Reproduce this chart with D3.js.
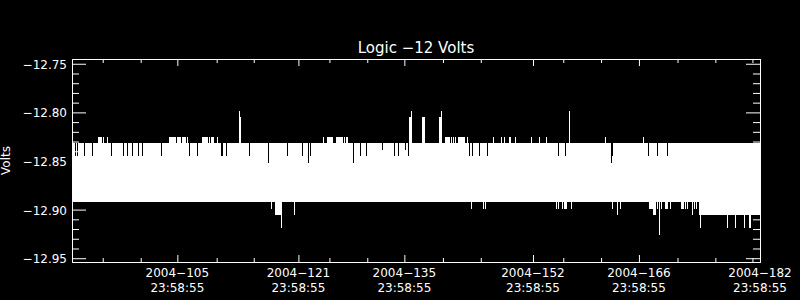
<!DOCTYPE html>
<html>
<head>
<meta charset="utf-8">
<script src="https://cdn.jsdelivr.net/npm/d3@7"></script>
<style>
  html, body { margin: 0; padding: 0; background: #000; }
  svg { display: block; }
  text { fill: #fff; font-family: "DejaVu Sans", sans-serif; }
  .axis path, .axis line { stroke: #fff; }
</style>
</head>
<body>
<div id="chart"></div>
<script>
// time axis in day-of-year 2004, values in volts
const xDomain = [91.08, 182.0];
const yDomain = [-12.9539, -12.7451];

const majorDays = [105, 121, 135, 152, 166, 182];
const dayLabels = ['2004\u2212105', '2004\u2212121', '2004\u2212135', '2004\u2212152', '2004\u2212166', '2004\u2212182'];
const timeLabel = '23:58:55';
const minorDays = [95.14, 100.16, 110.2, 115.1, 125.1, 130.1, 140.1, 145.1, 156.0, 161.0, 171.1, 176.1, 181.0];

const yMajor = [-12.75, -12.80, -12.85, -12.90, -12.95];
const yMinor = [-12.76, -12.77, -12.78, -12.79, -12.81, -12.82, -12.83, -12.84,
                -12.86, -12.87, -12.88, -12.89, -12.91, -12.92, -12.93, -12.94];

// main band: [fromDay, toDay, max, min]
const bandSegments = [
    [91.08, 173.93, -12.8317, -12.8923],
    [173.93, 182.0, -12.8317, -12.9058]
];

// readings above the band top: [fromDay, toDay, value]
const upSpikes = [
    [94.52, 94.87, -12.8249], [95.18, 95.18, -12.8249], [95.71, 95.71, -12.8249],
    [103.90, 104.25, -12.8249], [104.43, 104.43, -12.8249], [104.60, 104.60, -12.8249],
    [104.82, 104.82, -12.8249], [105.00, 105.35, -12.8249], [105.66, 106.00, -12.8249],
    [106.14, 106.14, -12.8249], [106.37, 106.37, -12.8249], [108.39, 108.88, -12.8249],
    [109.01, 109.01, -12.8249], [109.22, 109.22, -12.8249], [109.49, 109.67, -12.8249],
    [109.84, 109.84, -12.8249], [110.37, 110.37, -12.8249],
    [113.15, 113.15, -12.7983], [113.28, 113.37, -12.8051],
    [124.29, 124.29, -12.8249], [124.91, 125.44, -12.8249], [125.57, 125.57, -12.8249],
    [126.10, 126.72, -12.8249], [126.85, 126.85, -12.8249], [127.06, 127.06, -12.8249],
    [127.29, 127.29, -12.8249], [127.46, 127.46, -12.8249],
    [135.74, 136.01, -12.8051], [135.92, 135.92, -12.7983],
    [137.46, 137.69, -12.8051],
    [139.71, 139.93, -12.8051], [139.88, 139.88, -12.7983],
    [140.50, 141.03, -12.8249], [141.29, 141.29, -12.8249], [141.56, 141.56, -12.8249],
    [141.82, 141.82, -12.8249], [142.18, 142.97, -12.8249], [143.28, 143.28, -12.8249],
    [146.75, 146.75, -12.8249], [147.81, 147.81, -12.8249], [148.21, 148.21, -12.8249],
    [148.87, 149.05, -12.8249], [149.66, 149.66, -12.8249], [151.77, 151.77, -12.8249],
    [152.92, 152.92, -12.8249], [153.76, 153.76, -12.8249],
    [156.80, 156.80, -12.7983],
    [161.55, 161.55, -12.8249], [166.57, 166.57, -12.8249]
];

// columns where the maximum stays below the band top: [fromDay, toDay, value]
const notches = [
    [91.57, 91.57, -12.8451], [91.83, 91.83, -12.8451], [92.71, 92.71, -12.8451],
    [93.76, 93.76, -12.8451], [96.27, 96.27, -12.8451], [97.86, 97.86, -12.8451],
    [98.39, 98.39, -12.8451], [99.05, 99.05, -12.8451], [99.84, 99.84, -12.8451],
    [100.37, 100.37, -12.8451], [102.88, 102.88, -12.8451], [106.58, 106.58, -12.8451],
    [107.64, 107.64, -12.8451], [110.81, 110.81, -12.8451], [111.03, 111.03, -12.8451],
    [111.47, 111.47, -12.8451], [114.51, 114.51, -12.8451], [117.02, 117.02, -12.8518],
    [119.53, 119.53, -12.8451], [121.51, 121.51, -12.8451], [122.31, 122.31, -12.8518],
    [122.66, 122.66, -12.8451], [128.25, 128.25, -12.8518], [129.18, 129.18, -12.8451],
    [129.97, 129.97, -12.8451], [132.08, 132.08, -12.8384], [133.72, 133.72, -12.8451],
    [134.20, 134.20, -12.8451], [135.12, 135.12, -12.8384], [135.61, 135.61, -12.8451],
    [143.58, 143.58, -12.8451], [144.07, 144.07, -12.8451], [144.90, 144.90, -12.8451],
    [145.96, 145.96, -12.8451], [155.34, 155.34, -12.8451], [156.27, 156.27, -12.8451],
    [162.35, 162.53, -12.8451], [162.35, 162.35, -12.8518],
    [167.23, 167.23, -12.8451], [168.42, 168.42, -12.8451], [169.75, 169.75, -12.8451]
];

// readings below the band bottom: [fromDay, toDay, value]
const downSpikes = [
    [117.38, 117.38, -12.8991], [117.91, 118.70, -12.9058], [118.74, 118.74, -12.9193],
    [120.42, 120.42, -12.9058],
    [143.85, 143.85, -12.8991], [145.43, 145.43, -12.8991], [145.70, 145.70, -12.8991],
    [155.08, 155.08, -12.8991], [155.34, 155.34, -12.8991], [155.87, 155.87, -12.8991],
    [156.14, 156.45, -12.8991], [157.06, 157.06, -12.8991],
    [162.48, 162.48, -12.8991], [163.14, 163.14, -12.9058], [163.54, 163.54, -12.8991],
    [167.37, 167.72, -12.8991], [167.99, 168.25, -12.9058], [168.42, 168.42, -12.8991],
    [168.69, 168.69, -12.9260], [169.01, 169.01, -12.8991], [169.48, 169.71, -12.8991],
    [170.14, 170.14, -12.8991], [171.60, 171.82, -12.8991], [172.12, 172.12, -12.8991],
    [172.39, 172.39, -12.8991], [173.05, 173.05, -12.9058], [173.31, 173.31, -12.8991],
    [173.58, 173.58, -12.8991],
    [174.11, 174.11, -12.9193], [177.67, 177.67, -12.9193], [178.73, 178.73, -12.9193],
    [179.92, 179.92, -12.9193], [180.58, 180.77, -12.9193]
];

const WIDTH = 800;
const HEIGHT = 300;
const LEFT = 72, RIGHT = 760, TOP = 59, BOTTOM = 262;

const svg = d3.select('#chart')
    .append('svg')
    .attr('width', WIDTH)
    .attr('height', HEIGHT)
    .style('background', '#000');

const x = d3.scaleLinear().domain(xDomain).range([LEFT, RIGHT]);
const y = d3.scaleLinear().domain(yDomain).range([BOTTOM, TOP]);

const plot = svg.append('g').attr('shape-rendering', 'crispEdges');

plot.selectAll('rect.band')
    .data(bandSegments)
    .join('rect')
    .attr('class', 'band')
    .attr('x', d => x(d[0]))
    .attr('width', d => x(d[1]) - x(d[0]))
    .attr('y', d => y(d[2]))
    .attr('height', d => y(d[3]) - y(d[2]))
    .attr('fill', '#fff');

const colX = d => Math.floor(x(d[0]));
const colW = d => Math.max(1, Math.round(x(d[1]) - x(d[0])) + 1);
const bandTop = bandSegments[0][2];
const bandBottom = bandSegments[0][3];

plot.selectAll('rect.up')
    .data(upSpikes)
    .join('rect')
    .attr('class', 'up')
    .attr('x', colX)
    .attr('width', colW)
    .attr('y', d => y(d[2]))
    .attr('height', d => y(bandTop) - y(d[2]))
    .attr('fill', '#fff');

plot.selectAll('rect.down')
    .data(downSpikes)
    .join('rect')
    .attr('class', 'down')
    .attr('x', colX)
    .attr('width', colW)
    .attr('y', y(bandBottom))
    .attr('height', d => y(d[2]) - y(bandBottom))
    .attr('fill', '#fff');

plot.selectAll('rect.notch')
    .data(notches)
    .join('rect')
    .attr('class', 'notch')
    .attr('x', colX)
    .attr('width', colW)
    .attr('y', y(bandTop))
    .attr('height', d => y(d[2]) - y(bandTop))
    .attr('fill', '#000');

// axes, ticks point inward on all four sides
function addAxis(axis, transform) {
    const g = svg.append('g')
        .attr('class', 'axis')
        .attr('transform', transform)
        .call(axis);
    g.selectAll('text').remove();
    return g;
}

addAxis(d3.axisLeft(y).tickValues(yMajor).tickSize(-14).tickSizeOuter(0), `translate(${LEFT},0)`);
addAxis(d3.axisLeft(y).tickValues(yMinor).tickSize(-7).tickSizeOuter(0), `translate(${LEFT},0)`);
addAxis(d3.axisRight(y).tickValues(yMajor).tickSize(-14).tickSizeOuter(0), `translate(${RIGHT},0)`);
addAxis(d3.axisRight(y).tickValues(yMinor).tickSize(-7).tickSizeOuter(0), `translate(${RIGHT},0)`);
addAxis(d3.axisBottom(x).tickValues(majorDays).tickSize(-7).tickSizeOuter(0), `translate(0,${BOTTOM})`);
addAxis(d3.axisBottom(x).tickValues(minorDays).tickSize(-4).tickSizeOuter(0), `translate(0,${BOTTOM})`);
addAxis(d3.axisTop(x).tickValues(majorDays).tickSize(-7).tickSizeOuter(0), `translate(0,${TOP})`);
addAxis(d3.axisTop(x).tickValues(minorDays).tickSize(-4).tickSizeOuter(0), `translate(0,${TOP})`);

svg.selectAll('text.ylab')
    .data(yMajor)
    .join('text')
    .attr('class', 'ylab')
    .attr('x', LEFT - 5)
    .attr('y', d => y(d) + 5)
    .attr('text-anchor', 'end')
    .attr('font-size', 12)
    .text(d => d3.format('.2f')(d).replace('-', '\u2212'));

const xlab = svg.selectAll('text.xlab')
    .data(majorDays)
    .join('text')
    .attr('class', 'xlab')
    .attr('text-anchor', 'middle')
    .attr('font-size', 12);

xlab.append('tspan')
    .attr('x', d => x(d))
    .attr('y', BOTTOM + 15)
    .text((d, i) => dayLabels[i]);

xlab.append('tspan')
    .attr('x', d => x(d))
    .attr('y', BOTTOM + 30)
    .text(timeLabel);

svg.append('text')
    .attr('x', (LEFT + RIGHT) / 2)
    .attr('y', 53)
    .attr('text-anchor', 'middle')
    .attr('font-size', 15)
    .text('Logic \u221212 Volts');

svg.append('text')
    .attr('transform', `translate(10,${(TOP + BOTTOM) / 2}) rotate(-90)`)
    .attr('text-anchor', 'middle')
    .attr('font-size', 12)
    .text('Volts');
</script>
</body>
</html>
